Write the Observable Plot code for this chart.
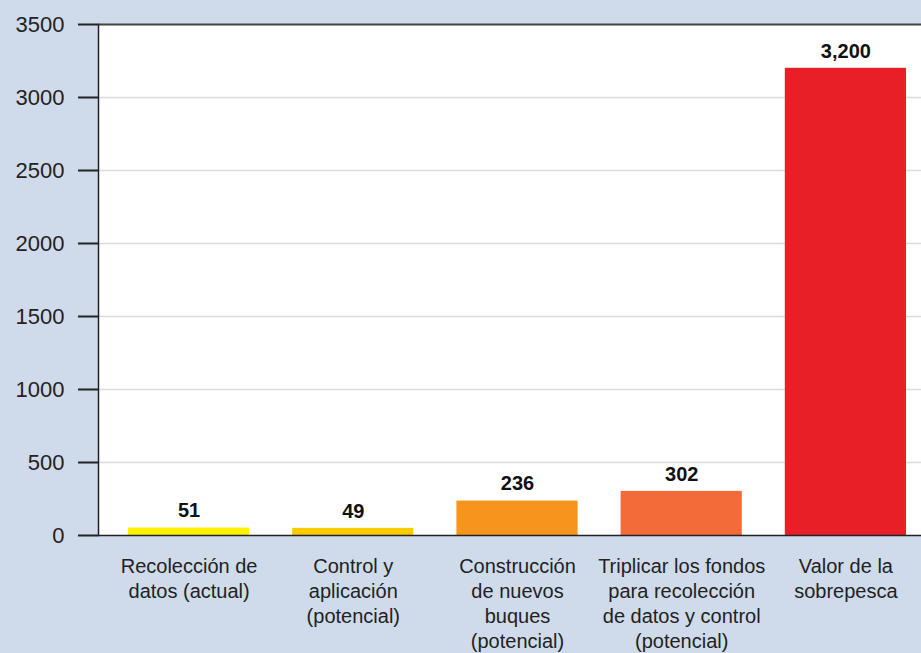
<!DOCTYPE html>
<html>
<head>
<meta charset="utf-8">
<script src="https://cdn.jsdelivr.net/npm/d3@7"></script>
<script src="https://cdn.jsdelivr.net/npm/@observablehq/plot@0.6"></script>
<style>
  html, body { margin: 0; padding: 0; background: #cfdbeb; }
  #chart svg { display: block; font-family: "Liberation Sans", Arial, sans-serif; }
</style>
</head>
<body>
<div id="chart"></div>
<script>
const categories = ["recoleccion", "control", "construccion", "triplicar", "valor"];
const categoryLabels = [
  "Recolección de\ndatos (actual)",
  "Control y\naplicación\n(potencial)",
  "Construcción\nde nuevos\nbuques\n(potencial)",
  "Triplicar los fondos\npara recolección\nde datos y control\n(potencial)",
  "Valor de la\nsobrepesca"
];
const values = [51, 49, 236, 302, 3200];
const barColors = ["#fff200", "#fecb00", "#f7941d", "#f26b38", "#e81f27"];
const yTicks = [0, 500, 1000, 1500, 2000, 2500, 3000, 3500];

const data = categories.map((c, i) => ({cat: c, label: categoryLabels[i], value: values[i], color: barColors[i]}));
const labelOf = new Map(categories.map((c, i) => [c, categoryLabels[i]]));

const W = 921, H = 653;
const chart = Plot.plot({
  width: W,
  height: H,
  marginTop: 24,
  marginBottom: 118,
  marginLeft: 98,
  marginRight: 0,
  style: {background: "#cfdbeb", color: "#222", fontFamily: "Liberation Sans, Arial, sans-serif"},
  x: {domain: categories, range: [85, 949], padding: 0.262, round: false, label: null},
  y: {domain: [0, 3500], label: null},
  marks: [
    Plot.frame({fill: "white", stroke: null}),
    Plot.gridY(yTicks.filter(d => d > 0 && d < 3500), {stroke: "#dcdcdc", strokeOpacity: 1, strokeWidth: 1.5}),
    Plot.ruleY([3500], {stroke: "#444", strokeWidth: 2}),
    Plot.barY(data, {x: "cat", y: "value", fill: "color"}),
    Plot.ruleY([0], {stroke: "#222", strokeWidth: 1.5}),
    Plot.frame({anchor: "left", stroke: "#222", strokeWidth: 1.5}),
    Plot.axisY({ticks: yTicks, tickSize: 20, tickPadding: 14, fontSize: 22, tickFormat: d => String(d), stroke: "#222", strokeWidth: 2, fill: "#222"}),
    Plot.axisX({tickSize: 0, tickPadding: 20, fontSize: 20, lineHeight: 1.25, tickFormat: d => labelOf.get(d), fill: "#222"}),
    Plot.text(data, {x: "cat", y: "value", text: d => d3.format(",")(d.value), dy: -17, fontSize: 20, fontWeight: "bold", fill: "#111"})
  ]
});
document.getElementById("chart").appendChild(chart);
</script>
</body>
</html>
